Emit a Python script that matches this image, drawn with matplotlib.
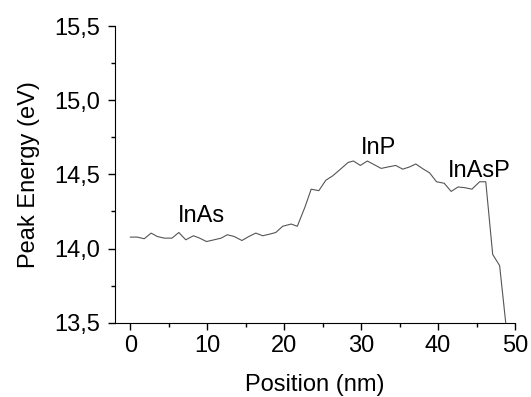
import matplotlib.pyplot as plt
from matplotlib.ticker import MultipleLocator, FuncFormatter

plt.rcParams['font.family'] = ['Liberation Sans', 'DejaVu Sans']

# positions (nm) and peak energies (eV)
position = [0.0, 0.9, 1.8, 2.7, 3.5, 4.4, 5.4, 6.3, 7.2, 8.2,
            9.0, 9.9, 10.9, 11.8, 12.6, 13.5, 14.5, 15.4, 16.3, 17.2,
            18.1, 18.9, 19.8, 20.9, 21.7, 22.7, 23.5, 24.5, 25.4, 26.3,
            27.2, 28.3, 29.0, 29.9, 30.8, 31.7, 32.6, 33.5, 34.5, 35.4,
            36.3, 37.1, 38.1, 38.9, 39.8, 40.8, 41.7, 42.6, 43.5, 44.4,
            45.4, 46.2, 47.1, 48.0, 49.0]
energy = [14.077, 14.077, 14.066, 14.104, 14.081, 14.07, 14.07, 14.108, 14.059, 14.086,
          14.07, 14.047, 14.059, 14.07, 14.093, 14.081, 14.054, 14.081, 14.104, 14.086,
          14.097, 14.108, 14.15, 14.165, 14.15, 14.28, 14.40, 14.39, 14.46, 14.49,
          14.53, 14.58, 14.59, 14.56, 14.59, 14.565, 14.54, 14.55, 14.56, 14.535,
          14.55, 14.57, 14.535, 14.51, 14.45, 14.44, 14.385, 14.415, 14.41, 14.40,
          14.45, 14.45, 13.96, 13.885, 13.40]

labels = ["InAs", "InP", "InAsP"]
label_x = [9.2, 32.3, 45.3]
label_y = [14.222, 14.68, 14.52]

FS = 17

fig = plt.figure(figsize=(5.31, 3.97), dpi=100)
ax = fig.add_axes([115 / 531, 1 - 322.7 / 397, 400 / 531, (322.7 - 26) / 397])

ax.plot(position, energy, color='#555555', linewidth=0.8)

for txt, lx, ly in zip(labels, label_x, label_y):
    ax.text(lx, ly, txt, fontsize=FS, ha='center', va='center')

ax.set_xlim(-2, 50)
ax.set_ylim(13.5, 15.5)
ax.xaxis.set_major_locator(MultipleLocator(10))
ax.xaxis.set_minor_locator(MultipleLocator(5))
ax.yaxis.set_major_locator(MultipleLocator(0.5))
ax.yaxis.set_minor_locator(MultipleLocator(0.25))
ax.yaxis.set_major_formatter(FuncFormatter(lambda v, p: f"{v:.1f}".replace('.', ',')))

ax.spines['top'].set_visible(False)
ax.spines['right'].set_visible(False)
ax.tick_params(which='major', direction='out', length=5, width=1, labelsize=FS)
ax.tick_params(axis='y', which='major', pad=6)
ax.tick_params(axis='x', which='major', pad=4)
ax.tick_params(which='minor', direction='out', length=3, width=1)

ax.set_xlabel("Position (nm)", fontsize=FS, labelpad=12)
ax.set_ylabel("Peak Energy (eV)", fontsize=FS, labelpad=10)

fig.savefig("out.png", dpi=100)
